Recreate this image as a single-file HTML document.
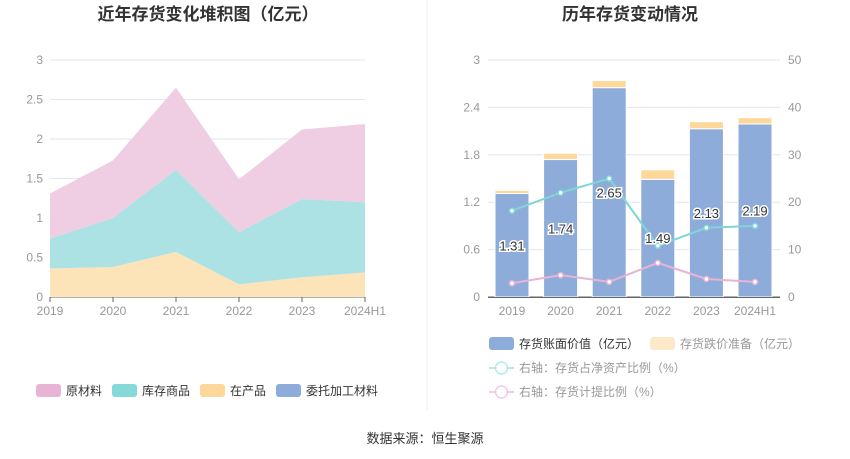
<!DOCTYPE html>
<html><head><meta charset="utf-8">
<style>
body{margin:0;background:#fff;font-family:"Liberation Sans","Noto Sans CJK SC",sans-serif;}
svg{display:block}
text{font-family:"Liberation Sans","Noto Sans CJK SC",sans-serif;}
</style></head>
<body>
<svg id="c" width="850" height="459">
<text x="208" y="20" text-anchor="middle" font-size="17" font-weight="bold" fill="#333">近年存货变化堆积图（亿元）</text>
<text x="630" y="20" text-anchor="middle" font-size="17" font-weight="bold" fill="#333">历年存货变动情况</text>
<line x1="427" y1="0" x2="427" y2="410" stroke="#eee"/>
<g id="left"></g><g id="right"></g>
<g font-size="12" fill="#333">
<rect x="36" y="384" width="25" height="13" rx="3" fill="#e8b4d6"/><text x="66" y="395">原材料</text>
<rect x="112" y="384" width="25" height="13" rx="3" fill="#86d9d9"/><text x="142" y="395">库存商品</text>
<rect x="200" y="384" width="25" height="13" rx="3" fill="#fdd89a"/><text x="230" y="395">在产品</text>
<rect x="276" y="384" width="25" height="13" rx="3" fill="#8eacd9"/><text x="306" y="395">委托加工材料</text>
</g>
<g font-size="12">
<rect x="489" y="337" width="25" height="13" rx="3" fill="#8eacd9"/><text x="519" y="348" fill="#333">存货账面价值（亿元）</text>
<rect x="650" y="337" width="25" height="13" rx="3" fill="#fde9c9"/><text x="680" y="348" fill="#999">存货跌价准备（亿元）</text>
<line x1="489" y1="368" x2="514" y2="368" stroke="#b3e9e9" stroke-width="2"/><circle cx="501.5" cy="368" r="6" fill="#fff" stroke="#b3e9e9" stroke-width="1.5"/><text x="519" y="372" fill="#999">右轴：存货占净资产比例（%）</text>
<line x1="489" y1="392" x2="514" y2="392" stroke="#f3c9e4" stroke-width="2"/><circle cx="501.5" cy="392" r="6" fill="#fff" stroke="#f3c9e4" stroke-width="1.5"/><text x="519" y="396" fill="#999">右轴：存货计提比例（%）</text>
</g>
<text x="425" y="443" text-anchor="middle" font-size="13" fill="#333">数据来源：恒生聚源</text>
</svg>
<script>
const years=["2019","2020","2021","2022","2023","2024H1"];
const wip=[0.36,0.38,0.57,0.16,0.25,0.31];
const goods=[0.38,0.62,1.04,0.66,0.99,0.89];
const raw=[0.57,0.73,1.04,0.67,0.88,0.99];
const consigned=[0,0,0,0,0,0];
const leftTicks=[0,0.5,1,1.5,2,2.5,3];
const bookValue=[1.31,1.74,2.65,1.49,2.13,2.19];
const reserve=[0.04,0.08,0.09,0.12,0.09,0.08];
const netAssetRatio=[18.2,22,25,10.8,14.6,15];
const provisionRatio=[2.9,4.6,3.2,7.2,3.8,3.2];
const rightTicks=[0,0.6,1.2,1.8,2.4,3];
const right2Ticks=[0,10,20,30,40,50];
const NS="http://www.w3.org/2000/svg";
function mk(p,t,a){const e=document.createElementNS(NS,t);for(const k in a)e.setAttribute(k,a[k]);p.appendChild(e);return e;}
// left
const L=document.getElementById('left');
const lx=i=>50+i*63, ly=v=>297-v*79;
leftTicks.forEach(t=>{
 const g=mk(L,'line',{x1:50,x2:365,y1:ly(t),y2:ly(t),stroke:t?'#e3e6f0':'#666'});
 
 
 const tx=mk(L,'text',{x:43,y:ly(t)+4,'text-anchor':'end','font-size':12,fill:'#999'});tx.textContent=t;
 
 
});
years.forEach((y,i)=>{
 mk(L,'line',{x1:lx(i),x2:lx(i),y1:297,y2:302,stroke:'#666'});
 const tx=mk(L,'text',{x:lx(i),y:315,'text-anchor':'middle','font-size':12,fill:'#999'});tx.textContent=y;
 
 
});
const layers=[[wip,'#fde3b8','area-wip'],[goods,'#ade2e4','area-goods'],[raw,'#efcde3','area-raw-material'],[consigned,'#8eacd9','area-consigned']];
let base=years.map(()=>0);
layers.forEach(([d,c,n])=>{
 const top=base.map((b,i)=>b+d[i]);
 let pts=top.map((v,i)=>lx(i)+','+ly(v));
 for(let i=years.length-1;i>=0;i--)pts.push(lx(i)+','+ly(base[i]));
 const p=mk(L,'polygon',{points:pts.join(' '),fill:c});
 
 
 base=top;
});
// right
const R=document.getElementById('right');
const rx=i=>512+i*48.6, ry=v=>297-v*79, ry2=v=>297-v*4.74;
rightTicks.forEach((t,k)=>{
 const g=mk(R,'line',{x1:488,x2:780,y1:ry(t),y2:ry(t),stroke:t?'#e3e6f0':'#666'});
 
 
 const tx=mk(R,'text',{x:480,y:ry(t)+4,'text-anchor':'end','font-size':12,fill:'#999'});tx.textContent=t;
 
 
 const t2=mk(R,'text',{x:788,y:ry2(right2Ticks[k])+4,'font-size':12,fill:'#999'});t2.textContent=right2Ticks[k];
 
 
});
years.forEach((y,i)=>{
 const tx=mk(R,'text',{x:rx(i),y:315,'text-anchor':'middle','font-size':12,fill:'#999'});tx.textContent=y;
 
 
 const b=mk(R,'rect',{x:rx(i)-17,y:ry(bookValue[i]),width:34,height:297-ry(bookValue[i]),fill:'#8eacd9',stroke:'#fff','stroke-width':1});
 
 
 const r=mk(R,'rect',{x:rx(i)-17,y:ry(bookValue[i]+reserve[i]),width:34,height:ry(bookValue[i])-ry(bookValue[i]+reserve[i]),fill:'#fdd89a',stroke:'#fff','stroke-width':1});
 
 
});
const ax=mk(R,'line',{x1:488,x2:780,y1:297.5,y2:297.5,stroke:'#666'});


[[netAssetRatio,'#7fd6d6','line-net-asset-ratio'],[provisionRatio,'#e8b4d6','line-provision-ratio']].forEach(([d,c,n])=>{
 const p=mk(R,'polyline',{points:d.map((v,i)=>rx(i)+','+ry2(v)).join(' '),fill:'none',stroke:c,'stroke-width':2});
 
 
 d.forEach((v,i)=>{const ci=mk(R,'circle',{cx:rx(i),cy:ry2(v),r:2.5,fill:'#fff',stroke:c,'stroke-width':1.5});
 
 });
});
bookValue.forEach((v,i)=>{
 const tx=mk(R,'text',{x:rx(i),y:ry(v/2)+5,'text-anchor':'middle','font-size':13,fill:'#333',stroke:'#fff','stroke-width':3,'paint-order':'stroke'});tx.textContent=v.toFixed(2);
 
 
});
</script>
</body></html>
